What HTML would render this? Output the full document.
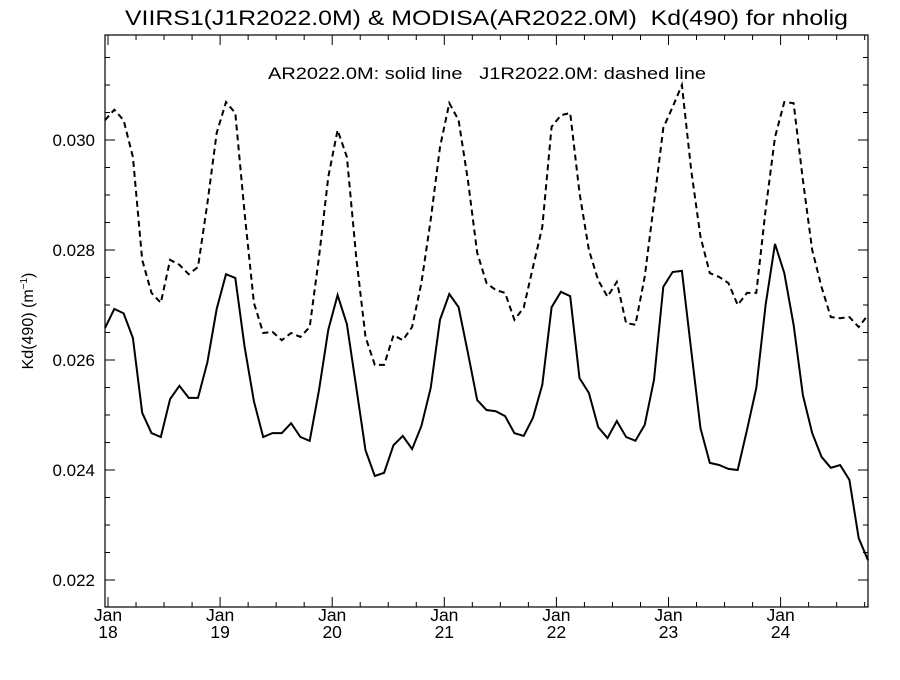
<!DOCTYPE html>
<html><head><meta charset="utf-8"><style>
html,body{margin:0;padding:0;background:#fff;}
svg text{font-family:"Liberation Sans",Arial,sans-serif;fill:#000;white-space:pre;}
</style></head><body>
<svg id="chart" width="900" height="675" viewBox="0 0 900 675" xmlns="http://www.w3.org/2000/svg">
<text x="125" y="25" font-size="21" textLength="723" lengthAdjust="spacingAndGlyphs">VIIRS1(J1R2022.0M) &amp; MODISA(AR2022.0M)  Kd(490) for nholig</text>
<text x="268" y="79" font-size="17" textLength="438" lengthAdjust="spacingAndGlyphs">AR2022.0M: solid line   J1R2022.0M: dashed line</text>
<text transform="translate(33,321) rotate(-90)" font-size="16" text-anchor="middle">Kd(490) (m<tspan font-size="10" dy="-6">−1</tspan><tspan dy="6">)</tspan></text>
<g id="axes"></g>
<g id="series"></g>
</svg>
<script>
const yTicks=[0.022,0.024,0.026,0.028,0.030];
const yTickLabels=["0.022","0.024","0.026","0.028","0.030"];
const xYearLabels=["18","19","20","21","22","23","24"];
const solidValues=[0.02658,0.02693,0.02685,0.02640,0.02504,0.02467,0.02460,0.02529,0.02553,0.02531,0.02531,0.02596,0.02693,0.02756,0.02749,0.02624,0.02525,0.02460,0.02467,0.02467,0.02485,0.02460,0.02453,0.02545,0.02655,0.02718,0.02665,0.02551,0.02436,0.02389,0.02395,0.02445,0.02462,0.02438,0.02480,0.02549,0.02673,0.02720,0.02696,0.02613,0.02527,0.02509,0.02507,0.02498,0.02467,0.02462,0.02495,0.02555,0.02696,0.02724,0.02716,0.02567,0.02540,0.02478,0.02458,0.02489,0.02460,0.02453,0.02482,0.02564,0.02733,0.02760,0.02762,0.02618,0.02476,0.02413,0.02409,0.02402,0.02400,0.02473,0.02549,0.02700,0.02811,0.02758,0.02664,0.02536,0.02467,0.02424,0.02404,0.02409,0.02382,0.02276,0.02236];
const dashedValues=[0.03036,0.03055,0.03036,0.02969,0.02782,0.02722,0.02704,0.02782,0.02773,0.02756,0.02769,0.02885,0.03013,0.03069,0.03049,0.02867,0.02704,0.02649,0.02651,0.02636,0.02649,0.02642,0.02660,0.02787,0.02933,0.03018,0.02969,0.02787,0.02642,0.02591,0.02591,0.02645,0.02636,0.02660,0.02740,0.02855,0.02987,0.03067,0.03036,0.02927,0.02795,0.02740,0.02727,0.02722,0.02673,0.02695,0.02769,0.02842,0.03024,0.03045,0.03049,0.02904,0.02800,0.02745,0.02715,0.02742,0.02667,0.02664,0.02751,0.02885,0.03022,0.03060,0.03100,0.02945,0.02824,0.02758,0.02751,0.02740,0.02700,0.02722,0.02722,0.02873,0.03005,0.03069,0.03067,0.02927,0.02800,0.02733,0.02678,0.02676,0.02678,0.02660,0.02682];

const NS="http://www.w3.org/2000/svg";
const L=105,R=868,T=35,B=607;
function yScale(v){return 140-(v-0.030)/0.002*110;}
function xScale(i){return L+i*(R-L)/(solidValues.length-1);}
function yearX(k){return 108+k*112.1;}
const axes=document.getElementById('axes');
function line(x1,y1,x2,y2,name){
  const l=document.createElementNS(NS,'line');
  l.setAttribute('x1',x1);l.setAttribute('y1',y1);l.setAttribute('x2',x2);l.setAttribute('y2',y2);
  l.setAttribute('stroke','#000');l.setAttribute('stroke-width','1');
  
  
  axes.appendChild(l);return l;
}
function text(x,y,s,anchor,size,name){
  const t=document.createElementNS(NS,'text');
  t.setAttribute('x',x);t.setAttribute('y',y);t.setAttribute('text-anchor',anchor);t.setAttribute('font-size',size);
  t.textContent=s;
  
  
  axes.appendChild(t);
}
const frame=document.createElementNS(NS,'rect');
frame.setAttribute('x',L);frame.setAttribute('y',T);frame.setAttribute('width',R-L);frame.setAttribute('height',B-T);
frame.setAttribute('fill','none');frame.setAttribute('stroke','#000');frame.setAttribute('stroke-width','1.2');


axes.appendChild(frame);
for(let v=0.0215;v<=0.0318;v+=0.0005){
  const y=yScale(v); if(y<T||y>B) continue;
  line(L,y,L+5,y,'y-minor-tick');line(R-5,y,R,y,'y-minor-tick');
}
yTicks.forEach((v,i)=>{
  const y=yScale(v);
  line(L,y,L+10,y,'y-major-tick');line(R-10,y,R,y,'y-major-tick');
  text(95,y+6,yTickLabels[i],'end',17,'y-tick-label');
});
for(let k=0;k<xYearLabels.length;k++){
  const x=yearX(k);
  line(x,B,x,B-10,'x-major-tick');line(x,T,x,T+10,'x-major-tick');
  text(x,621,'Jan','middle',17.5,'x-tick-month');
  text(x,638,xYearLabels[k],'middle',17.5,'x-tick-year');
  for(let q=1;q<4;q++){
    const xm=x+q*112.1/4; if(xm>R) continue;
    line(xm,B,xm,B-5,'x-minor-tick');line(xm,T,xm,T+5,'x-minor-tick');
  }
}
const series=document.getElementById('series');
function drawSeries(vals,name,dash){
  const p=document.createElementNS(NS,'polyline');
  p.setAttribute('points',vals.map((v,i)=>xScale(i).toFixed(1)+','+yScale(v).toFixed(1)).join(' '));
  p.setAttribute('fill','none');p.setAttribute('stroke','#000');p.setAttribute('stroke-width','2');
  if(dash)p.setAttribute('stroke-dasharray','6,4');
  
  
  series.appendChild(p);
}
drawSeries(solidValues,'modisa-solid-line',false);
drawSeries(dashedValues,'viirs-dashed-line',true);
</script>
</body></html>
